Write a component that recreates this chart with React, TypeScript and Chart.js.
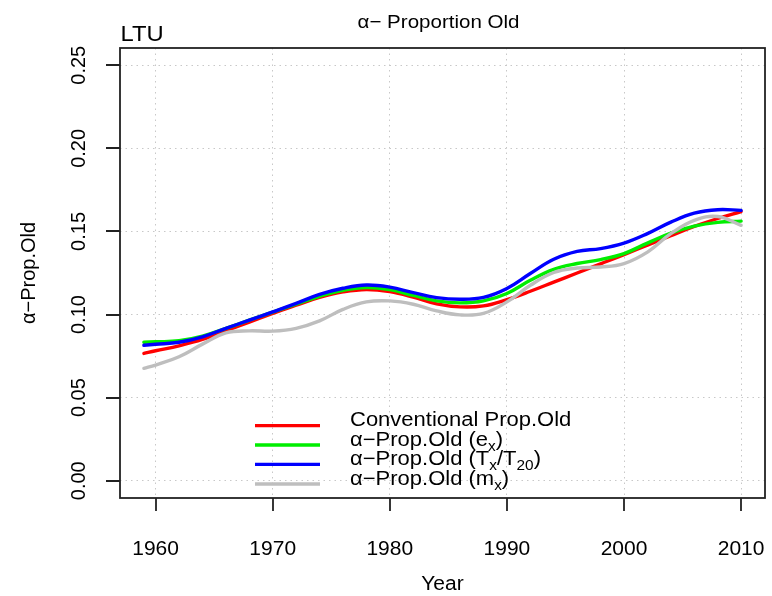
import React, { useEffect, useRef } from "react";
import { Chart, registerables } from "chart.js";

Chart.register(...registerables);

const years = [1959, 1960, 1962, 1964, 1966, 1968, 1970, 1972, 1974, 1976, 1978, 1980, 1982, 1984, 1986, 1988, 1990, 1992, 1994, 1996, 1998, 2000, 2002, 2004, 2006, 2008, 2010];
const conventional = [0.0766, 0.0782, 0.0812, 0.085, 0.0902, 0.0954, 0.1007, 0.1056, 0.1103, 0.1136, 0.1151, 0.1138, 0.1105, 0.1064, 0.1046, 0.1052, 0.109, 0.114, 0.1195, 0.125, 0.1305, 0.136, 0.1418, 0.1475, 0.153, 0.1578, 0.162];
const alphaEx = [0.0833, 0.0836, 0.0842, 0.087, 0.0917, 0.0966, 0.1014, 0.1062, 0.111, 0.1146, 0.1163, 0.115, 0.1115, 0.1082, 0.107, 0.1082, 0.1127, 0.1206, 0.1272, 0.1307, 0.1331, 0.1367, 0.143, 0.149, 0.1532, 0.1555, 0.1562];
const alphaTx = [0.0815, 0.0821, 0.0833, 0.0866, 0.0917, 0.0966, 0.1016, 0.1067, 0.1121, 0.1158, 0.1178, 0.1165, 0.1132, 0.1102, 0.1092, 0.1103, 0.1157, 0.1247, 0.1333, 0.138, 0.1397, 0.143, 0.1487, 0.1556, 0.161, 0.1631, 0.1627];
const alphaMx = [0.0676, 0.0696, 0.0746, 0.0822, 0.089, 0.0902, 0.09, 0.0917, 0.0962, 0.1031, 0.1076, 0.1082, 0.1062, 0.1022, 0.0998, 0.1007, 0.1076, 0.1176, 0.1253, 0.128, 0.1286, 0.1307, 0.1376, 0.1487, 0.1567, 0.159, 0.1537];

const xTicks = [1960, 1970, 1980, 1990, 2000, 2010];
const yTicks = [0, 0.05, 0.1, 0.15, 0.2, 0.25];
const yTickLabels = ["0.00", "0.05", "0.10", "0.15", "0.20", "0.25"];

const titleText = "\u03b1\u2212 Proportion Old";
const countryText = "LTU";
const xTitle = "Year";
const yTitle = "\u03b1\u2212Prop.Old";

const seriesColors = ["#FF0000", "#00EE00", "#0000FF", "#BEBEBE"];
const seriesLabels = ["Conventional Prop.Old", "alpha-Prop.Old (ex)", "alpha-Prop.Old (Tx/T20)", "alpha-Prop.Old (mx)"];
// legend entries: list of [text, isSubscript] parts
const legendParts: [string, boolean][][] = [
  [["Conventional Prop.Old", false]],
  [["\u03b1\u2212Prop.Old (e", false], ["x", true], [")", false]],
  [["\u03b1\u2212Prop.Old (T", false], ["x", true], ["/T", false], ["20", true], [")", false]],
  [["\u03b1\u2212Prop.Old (m", false], ["x", true], [")", false]],
];

const FONT = '"Liberation Sans", Arial, Helvetica, sans-serif';

function drawText(ctx: CanvasRenderingContext2D, s: string, x: number, y: number, size: number, align: CanvasTextAlign, baseline: CanvasTextBaseline, sx = 1, rot = 0) {
  ctx.save();
  ctx.translate(x, y);
  if (rot) ctx.rotate(rot);
  ctx.scale(sx, 1);
  ctx.font = `${size}px ${FONT}`;
  ctx.textAlign = align;
  ctx.textBaseline = baseline;
  ctx.fillStyle = "#000";
  ctx.fillText(s, 0, 0);
  ctx.restore();
}

const decorPlugin = {
  id: "decor",
  afterDatasetsDraw(chart: any) {
    const ctx: CanvasRenderingContext2D = chart.ctx;
    const { left, right, top, bottom } = chart.chartArea;
    const xs = chart.scales.x;
    const ys = chart.scales.y;
    ctx.save();
    ctx.strokeStyle = "#222";
    ctx.lineWidth = 1.8;
    ctx.setLineDash([]);
    ctx.strokeRect(left, top, right - left, bottom - top);
    ctx.beginPath();
    xTicks.forEach((v) => {
      const px = Math.round(xs.getPixelForValue(v));
      ctx.moveTo(px, bottom);
      ctx.lineTo(px, bottom + 13);
    });
    yTicks.forEach((v) => {
      const py = Math.round(ys.getPixelForValue(v));
      ctx.moveTo(left, py);
      ctx.lineTo(left - 14, py);
    });
    ctx.stroke();
    ctx.restore();

    xTicks.forEach((v) => {
      drawText(ctx, String(v), xs.getPixelForValue(v), 549, 20, "center", "middle", 1.05);
    });
    yTicks.forEach((v, i) => {
      drawText(ctx, yTickLabels[i], 79.5, ys.getPixelForValue(v), 20, "center", "middle", 1, -Math.PI / 2);
    });
    drawText(ctx, xTitle, (left + right) / 2, 584.5, 20, "center", "middle", 1.05);
    drawText(ctx, yTitle, 29, (top + bottom) / 2, 20, "center", "middle", 1.0, -Math.PI / 2);
    drawText(ctx, titleText, (left + right) / 2 - 4, 27.5, 19, "center", "alphabetic", 1.08);
    drawText(ctx, countryText, left + 0.5, 40.7, 22, "left", "alphabetic", 1.08);

    const rows = [425.7, 445, 464.3, 484];
    ctx.save();
    rows.forEach((ry, i) => {
      ctx.beginPath();
      ctx.strokeStyle = seriesColors[i];
      ctx.lineWidth = 3.3;
      ctx.moveTo(255, ry);
      ctx.lineTo(320, ry);
      ctx.stroke();
      let cx = 350;
      const sx = 1.1;
      legendParts[i].forEach(([s, sub]) => {
        const size = sub ? 14 : 20;
        ctx.font = `${size}px ${FONT}`;
        const w = ctx.measureText(s).width * sx;
        drawText(ctx, s, cx, ry + 0.5 + (sub ? 5 : 0), size, "left", "alphabetic", sx);
        cx += w;
      });
    });
    ctx.restore();
  },
};

export default function App() {
  const ref = useRef<HTMLCanvasElement | null>(null);
  useEffect(() => {
    if (!ref.current) return;
    const mk = (vals: number[]) => years.map((y, i) => ({ x: y, y: vals[i] }));
    const series = [conventional, alphaEx, alphaTx, alphaMx];
    const orders = [4, 3, 2, 1];
    const chart = new Chart(ref.current, {
      type: "line",
      data: {
        datasets: series.map((s, i) => ({
          label: seriesLabels[i],
          data: mk(s),
          borderColor: seriesColors[i],
          backgroundColor: seriesColors[i],
          borderWidth: 3.4,
          pointRadius: 0,
          tension: 0.4,
          borderCapStyle: "round" as const,
          borderJoinStyle: "round" as const,
          fill: false,
          order: orders[i],
        })),
      },
      options: {
        animation: false,
        responsive: false,
        layout: { padding: { left: 120, top: 48, right: 7, bottom: 98 } },
        plugins: { legend: { display: false }, tooltip: { enabled: false }, title: { display: false } },
        scales: {
          x: {
            type: "linear",
            min: 1956.96,
            max: 2012.04,
            afterBuildTicks: (scale: any) => {
              scale.ticks = xTicks.map((v) => ({ value: v }));
            },
            ticks: { display: false },
            grid: { color: "#c8c8c8", lineWidth: 1, drawTicks: false },
            border: { display: false, dash: [1.5, 4] },
          },
          y: {
            type: "linear",
            min: -0.0104,
            max: 0.2604,
            afterBuildTicks: (scale: any) => {
              scale.ticks = yTicks.map((v) => ({ value: v }));
            },
            ticks: { display: false },
            grid: { color: "#c8c8c8", lineWidth: 1, drawTicks: false },
            border: { display: false, dash: [1.5, 4] },
          },
        },
      },
      plugins: [decorPlugin],
    });
    return () => chart.destroy();
  }, []);
  return (
    <div style={{ position: "fixed", left: 0, top: 0, width: 772, height: 596, background: "#fff" }}>
      <canvas ref={ref} width={772} height={596} style={{ display: "block" }} />
    </div>
  );
}
